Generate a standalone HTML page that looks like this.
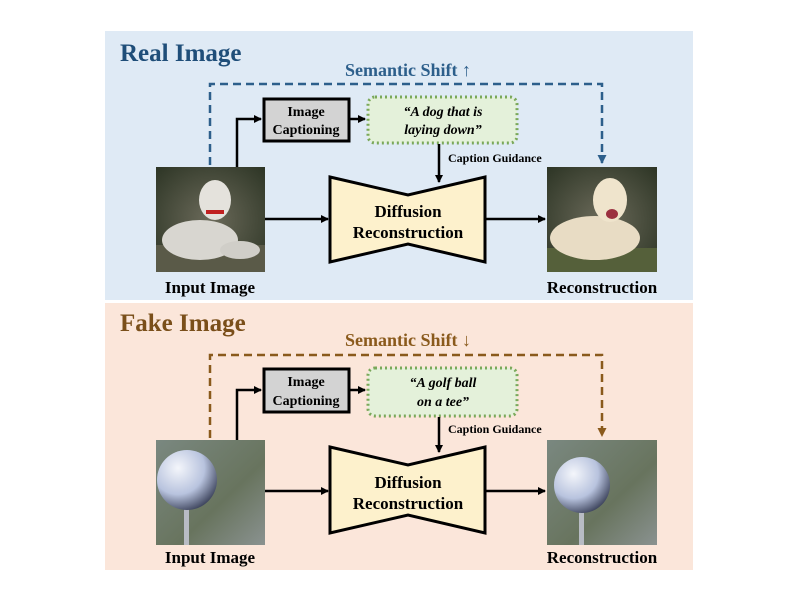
<!DOCTYPE html>
<html><head><meta charset="utf-8"><style>
html,body{margin:0;padding:0;background:#fff;}
svg{display:block;}
text{font-family:"Liberation Serif",serif;font-weight:bold;}
</style></head><body>
<svg width="800" height="600" viewBox="0 0 800 600" xmlns="http://www.w3.org/2000/svg">
<defs>
<marker id="ab" markerWidth="8" markerHeight="8" refX="7" refY="4" orient="auto" markerUnits="userSpaceOnUse"><path d="M0,0 L8,4 L0,8 z" fill="#000"/></marker>
<marker id="ablue" markerWidth="9" markerHeight="9" refX="8" refY="4.5" orient="auto" markerUnits="userSpaceOnUse"><path d="M0,0 L9,4.5 L0,9 z" fill="#2d5f8b"/></marker>
<marker id="abrown" markerWidth="9" markerHeight="9" refX="8" refY="4.5" orient="auto" markerUnits="userSpaceOnUse"><path d="M0,0 L9,4.5 L0,9 z" fill="#8a5a1c"/></marker>
<radialGradient id="dogbg" cx="0.5" cy="0.5" r="0.7"><stop offset="0" stop-color="#6b6a5a"/><stop offset="1" stop-color="#2d3525"/></radialGradient>
<linearGradient id="golfbg" x1="0" y1="0" x2="1" y2="1"><stop offset="0" stop-color="#7a8880"/><stop offset="0.6" stop-color="#68745e"/><stop offset="1" stop-color="#8a9290"/></linearGradient>
<radialGradient id="ball" cx="0.35" cy="0.3" r="0.8"><stop offset="0" stop-color="#f4f6fb"/><stop offset="0.55" stop-color="#b8c3de"/><stop offset="1" stop-color="#2a3048"/></radialGradient>
</defs>

<!-- top panel -->
<rect x="105" y="31" width="588" height="269" fill="#dfeaf5"/>
<!-- bottom panel -->
<rect x="105" y="303" width="588" height="267" fill="#fbe6da"/>

<!-- ===== TOP ===== -->
<text x="120" y="61" font-size="25" fill="#1f4e79">Real Image</text>
<text x="408" y="76" font-size="18" fill="#2d5f8b" text-anchor="middle">Semantic Shift ↑</text>
<path d="M210,165 L210,84 L602,84 L602,163" fill="none" stroke="#2d5f8b" stroke-width="2.5" stroke-dasharray="8,5" marker-end="url(#ablue)"/>

<!-- input dog image -->
<rect x="156" y="167" width="109" height="105" fill="url(#dogbg)"/>
<rect x="156" y="245" width="109" height="27" fill="#5a5a48"/>
<ellipse cx="200" cy="240" rx="38" ry="20" fill="#d8d6d0"/>
<ellipse cx="215" cy="200" rx="16" ry="20" fill="#e4e2dc"/>
<ellipse cx="240" cy="250" rx="20" ry="9" fill="#d0cec8"/>
<rect x="206" y="210" width="18" height="4" fill="#c02020"/>

<!-- output dog image -->
<rect x="547" y="167" width="110" height="105" fill="url(#dogbg)"/>
<rect x="547" y="248" width="110" height="24" fill="#55603a"/>
<ellipse cx="595" cy="238" rx="45" ry="22" fill="#e8dcc4"/>
<ellipse cx="610" cy="200" rx="17" ry="22" fill="#efe4cc"/>
<ellipse cx="612" cy="214" rx="6" ry="5" fill="#9b3040"/>

<path d="M237,167 L237,119 L261,119" fill="none" stroke="#000" stroke-width="2.5" marker-end="url(#ab)"/>
<rect x="264" y="99" width="85" height="42" fill="#d3d3d3" stroke="#000" stroke-width="3"/>
<text x="306" y="116" font-size="14" text-anchor="middle">Image</text>
<text x="306" y="134" font-size="14" text-anchor="middle">Captioning</text>
<path d="M350,119 L365,119" stroke="#000" stroke-width="2.5" marker-end="url(#ab)"/>
<rect x="368" y="97" width="149" height="46" rx="7" fill="#e4f1da" stroke="#7aa85a" stroke-width="3" stroke-dasharray="2,3"/>
<text x="443" y="116" font-size="14" font-style="italic" text-anchor="middle">“A dog that is</text>
<text x="443" y="134" font-size="14" font-style="italic" text-anchor="middle">laying down”</text>
<path d="M439,144 L439,182" stroke="#000" stroke-width="2.5" marker-end="url(#ab)"/>
<text x="448" y="162" font-size="12">Caption Guidance</text>

<polygon points="330,177 408,195 485,177 485,262 408,244 330,262" fill="#fdf1cc" stroke="#000" stroke-width="3"/>
<text x="408" y="217" font-size="17" text-anchor="middle">Diffusion</text>
<text x="408" y="238" font-size="17" text-anchor="middle">Reconstruction</text>
<path d="M265,219 L328,219" stroke="#000" stroke-width="2.5" marker-end="url(#ab)"/>
<path d="M485,219 L545,219" stroke="#000" stroke-width="2.5" marker-end="url(#ab)"/>
<text x="210" y="293" font-size="17" text-anchor="middle">Input Image</text>
<text x="602" y="293" font-size="17" text-anchor="middle">Reconstruction</text>

<!-- ===== BOTTOM ===== -->
<text x="120" y="331" font-size="25" fill="#7a4f1a">Fake Image</text>
<text x="408" y="346" font-size="18" fill="#8a5a1c" text-anchor="middle">Semantic Shift ↓</text>
<path d="M210,438 L210,355 L602,355 L602,436" fill="none" stroke="#8a5a1c" stroke-width="2.5" stroke-dasharray="8,5" marker-end="url(#abrown)"/>

<rect x="156" y="440" width="109" height="105" fill="url(#golfbg)"/>
<rect x="184" y="500" width="5" height="45" fill="#b8bcc4"/>
<circle cx="187" cy="480" r="30" fill="url(#ball)"/>
<rect x="547" y="440" width="110" height="105" fill="url(#golfbg)"/>
<rect x="579" y="505" width="5" height="40" fill="#b8bcc4"/>
<circle cx="582" cy="485" r="28" fill="url(#ball)"/>

<path d="M237,440 L237,390 L261,390" fill="none" stroke="#000" stroke-width="2.5" marker-end="url(#ab)"/>
<rect x="264" y="369" width="85" height="43" fill="#d3d3d3" stroke="#000" stroke-width="3"/>
<text x="306" y="386" font-size="14" text-anchor="middle">Image</text>
<text x="306" y="405" font-size="14" text-anchor="middle">Captioning</text>
<path d="M350,390 L365,390" stroke="#000" stroke-width="2.5" marker-end="url(#ab)"/>
<rect x="368" y="368" width="149" height="48" rx="7" fill="#e4f1da" stroke="#7aa85a" stroke-width="3" stroke-dasharray="2,3"/>
<text x="443" y="387" font-size="14" font-style="italic" text-anchor="middle">“A golf ball</text>
<text x="443" y="406" font-size="14" font-style="italic" text-anchor="middle">on a tee”</text>
<path d="M439,417 L439,452" stroke="#000" stroke-width="2.5" marker-end="url(#ab)"/>
<text x="448" y="433" font-size="12">Caption Guidance</text>

<polygon points="330,447 408,465 485,447 485,533 408,515 330,533" fill="#fdf1cc" stroke="#000" stroke-width="3"/>
<text x="408" y="488" font-size="17" text-anchor="middle">Diffusion</text>
<text x="408" y="509" font-size="17" text-anchor="middle">Reconstruction</text>
<path d="M265,491 L328,491" stroke="#000" stroke-width="2.5" marker-end="url(#ab)"/>
<path d="M485,491 L545,491" stroke="#000" stroke-width="2.5" marker-end="url(#ab)"/>
<text x="210" y="563" font-size="17" text-anchor="middle">Input Image</text>
<text x="602" y="563" font-size="17" text-anchor="middle">Reconstruction</text>
</svg>
</body></html>
